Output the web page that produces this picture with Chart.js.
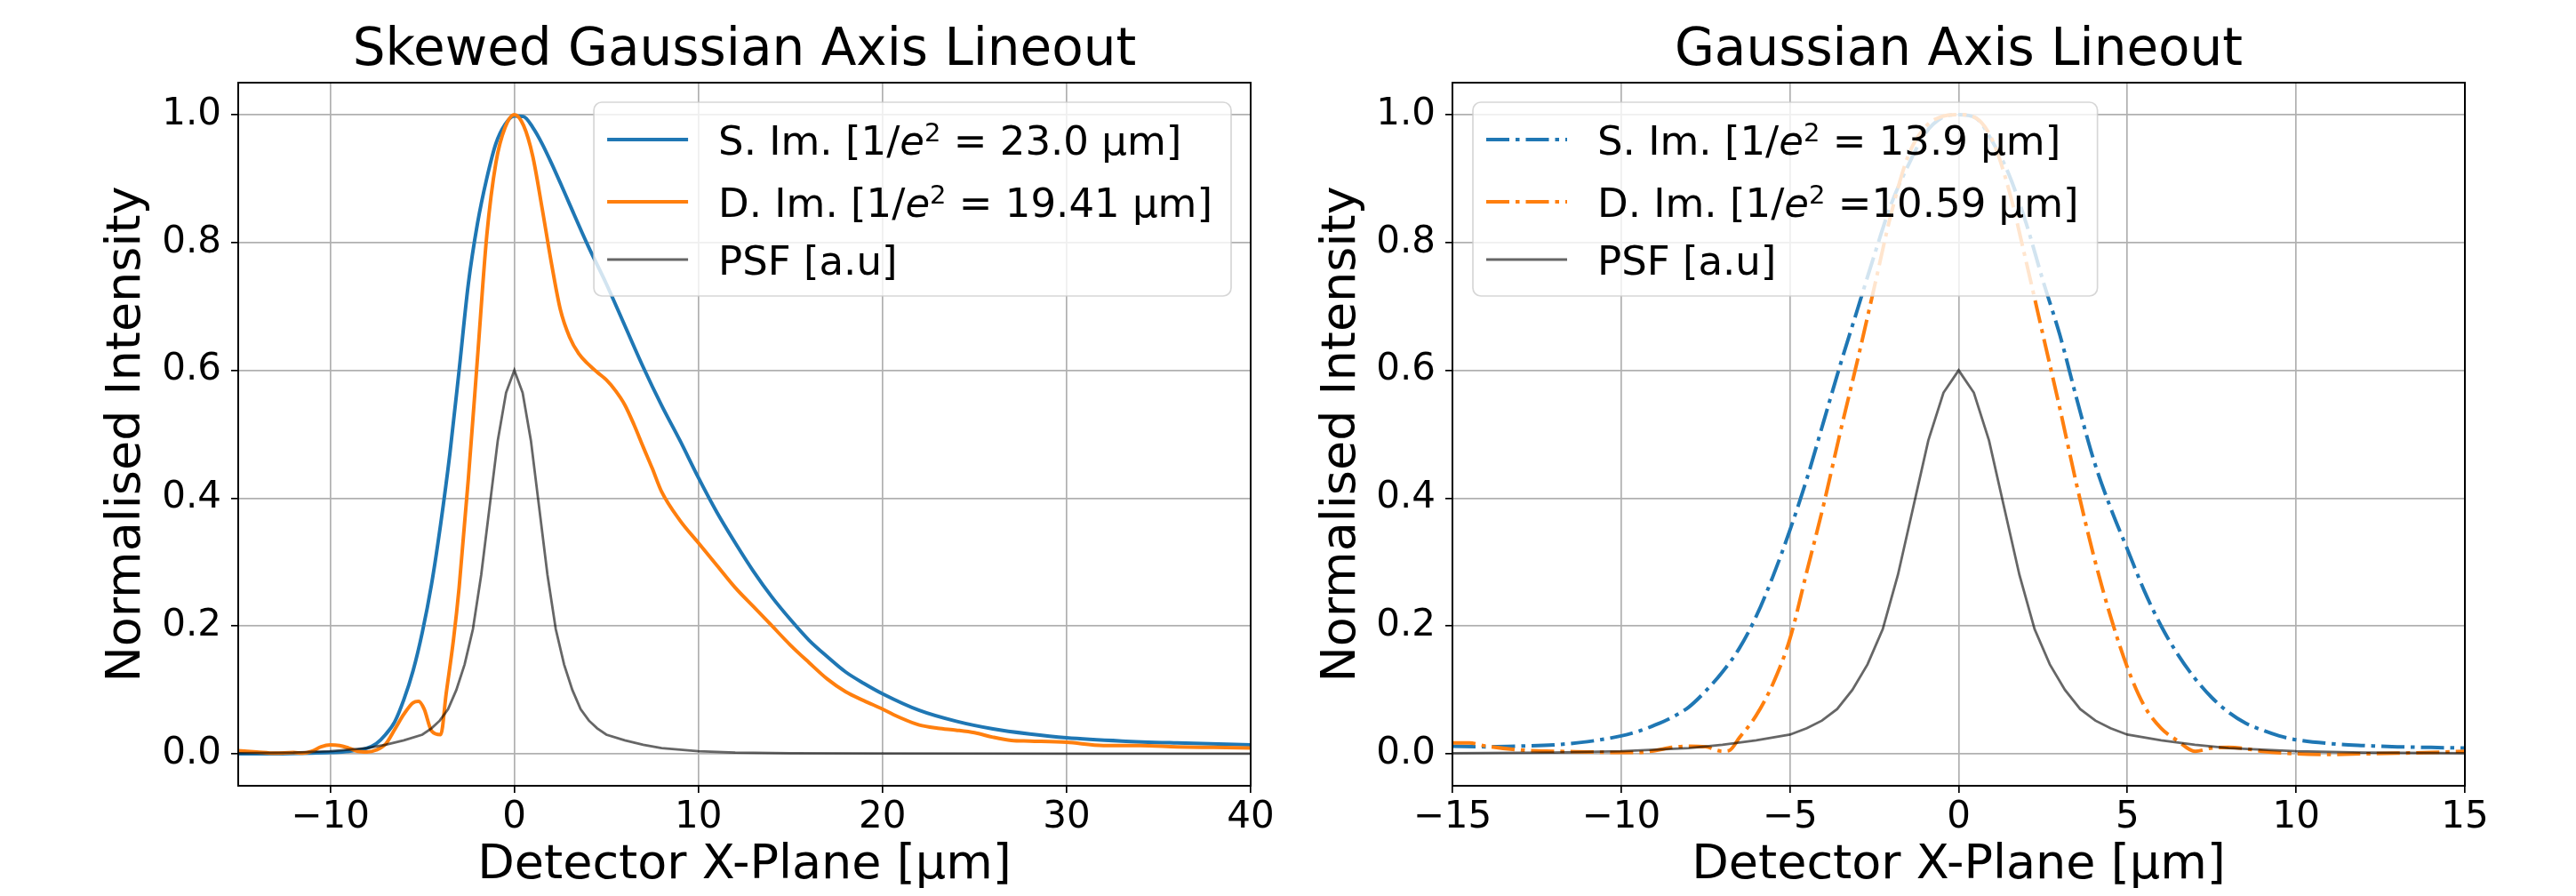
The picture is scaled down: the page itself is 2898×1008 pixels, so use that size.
<!DOCTYPE html>
<html lang="en">
<head>
    <meta charset="UTF-8">
    <title>Axis Lineouts</title>
    <script src="https://cdn.jsdelivr.net/npm/chart.js"></script>
    <style>
        body {
            margin: 0;
            background: #fff;
        }
        .wrap {
            display: flex;
            width: 2898px;
            height: 1008px;
        }
        .panel {
            width: 1449px;
            height: 1008px;
        }
    </style>
</head>
<body>

    <div class="wrap">
        <div class="panel"><canvas id="skewChart" width="1449" height="1008"></canvas></div>
        <div class="panel"><canvas id="gaussChart" width="1449" height="1008"></canvas></div>
    </div>

    <script>
        // tick values
        const yTickValues = [0, 0.2, 0.4, 0.6, 0.8, 1.0];
        const skewXTicks = [-10, 0, 10, 20, 30, 40];
        const gaussXTicks = [-15, -10, -5, 0, 5, 10, 15];

        // skewed gaussian lineout - S. Im.
        const skewSX = [-15, -13, -11, -10, -9, -8, -7.5, -7, -6.5, -6, -5.5, -5, -4.5, -4, -3.5, -3, -2.5, -2,
            -1.5, -1, -0.5, 0, 0.5, 1, 1.5, 2, 2.5, 3, 4, 5, 6, 7, 8, 9, 10, 11, 12, 13, 14, 15, 16, 17,
            18, 19, 20, 22, 24, 26, 28, 30, 33, 36, 40];
        const skewSY = [0.0, 0.0, 0.001, 0.002, 0.004, 0.009, 0.016, 0.03, 0.05, 0.085, 0.13, 0.19, 0.265, 0.36, 0.47, 0.60, 0.735, 0.83,
            0.90, 0.955, 0.985, 0.998, 0.997, 0.98, 0.955, 0.925, 0.893, 0.86, 0.795, 0.735, 0.67, 0.605, 0.545, 0.49, 0.432, 0.378, 0.33, 0.285, 0.245, 0.21, 0.178, 0.152,
            0.128, 0.11, 0.094, 0.068, 0.051, 0.039, 0.031, 0.025, 0.02, 0.017, 0.014];

        // skewed gaussian lineout - D. Im.
        const skewDX = [-15, -14, -13, -12, -11.5, -11, -10.5, -10, -9.5, -9, -8.5, -8, -7.5, -7, -6.5, -6, -5.5, -5.2,
            -4.9, -4.5, -4, -3.7, -3.3, -3, -2.5, -2, -1.5, -1, -0.5, 0, 0.5, 1, 1.5, 2, 2.5, 3,
            3.5, 4, 4.5, 5, 5.5, 6, 6.5, 7, 7.5, 8, 9, 10, 11, 12, 13, 14, 15, 16,
            17, 18, 19, 20, 21, 22, 23, 24, 25, 26, 27, 28, 30, 32, 34, 36, 38, 40];
        const skewDY = [0.005, 0.003, 0.001, 0.002, 0.001, 0.004, 0.011, 0.014, 0.013, 0.009, 0.004, 0.003, 0.006, 0.015, 0.038, 0.062, 0.08, 0.082,
            0.07, 0.036, 0.03, 0.095, 0.18, 0.26, 0.43, 0.62, 0.81, 0.925, 0.98, 1.0, 0.983, 0.935, 0.855, 0.77, 0.695, 0.652,
            0.626, 0.61, 0.597, 0.585, 0.568, 0.546, 0.515, 0.48, 0.446, 0.41, 0.365, 0.33, 0.295, 0.26, 0.23, 0.2, 0.17, 0.143,
            0.117, 0.097, 0.083, 0.07, 0.056, 0.045, 0.04, 0.037, 0.033, 0.026, 0.021, 0.02, 0.018, 0.013, 0.013, 0.011, 0.01, 0.009];

        // gaussian lineout - S. Im.
        const gaussSX = [-15, -14, -13, -12, -11, -10, -9.5, -9, -8.5, -8, -7.5, -7, -6.5, -6, -5.5, -5, -4.5, -4,
            -3.5, -3, -2.5, -2, -1.5, -1, -0.5, 0, 0.5, 1, 1.5, 2, 2.5, 3, 3.5, 4, 4.5, 5,
            5.5, 6, 6.5, 7, 7.5, 8, 8.5, 9, 9.5, 10, 11, 12, 13, 14, 15];
        const gaussSY = [0.012, 0.011, 0.012, 0.014, 0.019, 0.028, 0.035, 0.045, 0.057, 0.073, 0.098, 0.128, 0.165, 0.215, 0.278, 0.35, 0.43, 0.52,
            0.61, 0.695, 0.78, 0.86, 0.92, 0.97, 0.995, 1.0, 0.995, 0.958, 0.905, 0.83, 0.74, 0.655, 0.555, 0.46, 0.385, 0.32,
            0.255, 0.2, 0.155, 0.118, 0.088, 0.065, 0.048, 0.037, 0.028, 0.022, 0.016, 0.013, 0.011, 0.01, 0.009];

        // gaussian lineout - D. Im.
        const gaussDX = [-15, -14.5, -14, -13, -12, -11, -10, -9.5, -9, -8.5, -8, -7.5, -7, -6.8, -6.5, -6, -5.5, -5,
            -4.5, -4, -3.5, -3, -2.5, -2, -1.5, -1, -0.5, 0, 0.5, 1, 1.5, 2, 2.5, 3, 3.5, 4,
            4.5, 5, 5.5, 6, 6.5, 7, 7.5, 8, 8.5, 9, 10, 11, 12, 13, 14, 15];
        const gaussDY = [0.017, 0.017, 0.012, 0.006, 0.004, 0.003, 0.002, 0.002, 0.005, 0.01, 0.012, 0.011, 0.004, 0.005, 0.025, 0.06, 0.11, 0.18,
            0.285, 0.39, 0.505, 0.615, 0.73, 0.845, 0.935, 0.98, 0.997, 1.0, 0.995, 0.96, 0.88, 0.77, 0.655, 0.54, 0.42, 0.31,
            0.215, 0.135, 0.075, 0.04, 0.02, 0.004, 0.009, 0.01, 0.008, 0.004, 0.0, -0.001, 0.0, 0.001, 0.002, 0.004];

        // point spread function, same in both panels
        const psfX = [-15, -12, -10, -8, -7, -6, -5, -4.5, -4.05, -3.6, -3.15, -2.7, -2.25, -1.8, -1.35, -0.9, -0.45, 0,
            0.45, 0.9, 1.35, 1.8, 2.25, 2.7, 3.15, 3.6, 4.05, 4.5, 5, 6, 7, 8, 10, 12, 15, 20, 30, 40];
        const psfY = [0.001, 0.002, 0.004, 0.009, 0.014, 0.021, 0.03, 0.04, 0.052, 0.07, 0.1, 0.14, 0.195, 0.28, 0.385, 0.49, 0.565, 0.6,
            0.565, 0.49, 0.385, 0.28, 0.195, 0.14, 0.1, 0.07, 0.052, 0.04, 0.03, 0.021, 0.014, 0.009, 0.004, 0.002, 0.001, 0.0005, 0.0002, 0.0001];

        // legend labels, split so 1/e^2 can get italic e and a raised 2
        const skewLabels = [
            [{t: 'S. Im. [1/'}, {t: 'e', it: true}, {t: '2', sup: true}, {t: ' = 23.0 μm]'}],
            [{t: 'D. Im. [1/'}, {t: 'e', it: true}, {t: '2', sup: true}, {t: ' = 19.41 μm]'}],
            [{t: 'PSF [a.u]'}]
        ];
        const gaussLabels = [
            [{t: 'S. Im. [1/'}, {t: 'e', it: true}, {t: '2', sup: true}, {t: ' = 13.9 μm]'}],
            [{t: 'D. Im. [1/'}, {t: 'e', it: true}, {t: '2', sup: true}, {t: ' =10.59 μm]'}],
            [{t: 'PSF [a.u]'}]
        ];

        const FONT = "'DejaVu Sans', sans-serif";
        Chart.defaults.font.family = FONT;
        Chart.defaults.color = '#000';

        const BLUE = '#1f77b4';
        const ORANGE = '#ff7f0e';
        const GREY = 'rgba(0, 0, 0, 0.6)';
        const DASHDOT = [26, 7, 4.5, 7];

        function pts(xs, ys) {
            return xs.map((x, i) => ({x: x, y: ys[i]}));
        }

        function fmt(v) {
            return v < 0 ? '\u2212' + Math.abs(v) : String(v);
        }

        // black box round the axes, like matplotlib spines
        const framePlugin = {
            id: 'frame',
            afterDatasetsDraw(chart) {
                const a = chart.chartArea;
                const ctx = chart.ctx;
                ctx.save();
                ctx.strokeStyle = '#000';
                ctx.lineWidth = 2;
                ctx.strokeRect(a.left, a.top, a.right - a.left, a.bottom - a.top);
                ctx.restore();
            }
        };

        // matplotlib style legend inside the axes
        const legendPlugin = {
            id: 'mplLegend',
            afterDraw(chart, args, opts) {
                const ctx = chart.ctx;
                const a = chart.chartArea;
                const size = 45;
                const mainFont = size + 'px ' + FONT;
                const italFont = 'italic ' + size + 'px ' + FONT;
                const supFont = '29px ' + FONT;

                function runParts(parts, x, y, draw) {
                    let cx = x;
                    parts.forEach(p => {
                        ctx.font = p.sup ? supFont : (p.it ? italFont : mainFont);
                        if (draw) ctx.fillText(p.t, cx, p.sup ? y - 15 : y);
                        cx += ctx.measureText(p.t).width;
                    });
                    return cx - x;
                }

                ctx.save();
                const textW = Math.max(...opts.labels.map(l => runParts(l, 0, 0, false)));
                const w = 140 + textW + 21;
                const h = 218;
                const x = opts.loc === 'left' ? a.left + 23 : a.right - 22 - w;
                const y = a.top + 22;
                const r = 9;

                ctx.beginPath();
                ctx.moveTo(x + r, y);
                ctx.lineTo(x + w - r, y);
                ctx.arcTo(x + w, y, x + w, y + r, r);
                ctx.lineTo(x + w, y + h - r);
                ctx.arcTo(x + w, y + h, x + w - r, y + h, r);
                ctx.lineTo(x + r, y + h);
                ctx.arcTo(x, y + h, x, y + h - r, r);
                ctx.lineTo(x, y + r);
                ctx.arcTo(x, y, x + r, y, r);
                ctx.closePath();
                ctx.fillStyle = 'rgba(255, 255, 255, 0.8)';
                ctx.fill();
                ctx.strokeStyle = 'rgba(204, 204, 204, 0.8)';
                ctx.lineWidth = 1.7;
                ctx.stroke();

                const rows = [42, 112, 177];
                chart.data.datasets.forEach((ds, i) => {
                    const ry = y + rows[i];
                    ctx.beginPath();
                    ctx.setLineDash(ds.borderDash || []);
                    ctx.lineCap = 'butt';
                    ctx.strokeStyle = ds.borderColor;
                    ctx.lineWidth = ds.borderWidth;
                    ctx.moveTo(x + 15, ry);
                    ctx.lineTo(x + 106, ry);
                    ctx.stroke();
                    ctx.setLineDash([]);
                    ctx.fillStyle = '#000';
                    ctx.textBaseline = 'alphabetic';
                    ctx.textAlign = 'left';
                    runParts(opts.labels[i], x + 140, ry + 16.5, true);
                });
                ctx.restore();
            }
        };

        function makeChart(id, cfg) {
            return new Chart(document.getElementById(id), {
                type: 'line',
                data: {
                    datasets: [
                        {
                            label: 'S. Im.',
                            data: cfg.sImage,
                            borderColor: BLUE,
                            borderWidth: 4,
                            borderDash: cfg.dash,
                            cubicInterpolationMode: 'monotone',
                            order: 3
                        },
                        {
                            label: 'D. Im.',
                            data: cfg.dImage,
                            borderColor: ORANGE,
                            borderWidth: 4,
                            borderDash: cfg.dash,
                            cubicInterpolationMode: 'monotone',
                            order: 2
                        },
                        {
                            label: 'PSF [a.u]',
                            data: pts(psfX, psfY),
                            borderColor: GREY,
                            borderWidth: 2.8,
                            tension: 0,
                            order: 1
                        }
                    ]
                },
                options: {
                    responsive: false,
                    animation: false,
                    events: [],
                    layout: {
                        padding: {left: 0, top: 0, right: cfg.padRight, bottom: 0}
                    },
                    elements: {
                        point: {radius: 0},
                        line: {borderCapStyle: 'butt', fill: false}
                    },
                    scales: {
                        x: {
                            type: 'linear',
                            position: 'bottom',
                            min: cfg.xMin,
                            max: cfg.xMax,
                            afterFit: s => { s.height = 124; },
                            afterBuildTicks: s => { s.ticks = cfg.xTicks.map(v => ({value: v})); },
                            ticks: {
                                font: {size: 42},
                                padding: 3,
                                autoSkip: false,
                                maxRotation: 0,
                                minRotation: 0,
                                callback: v => fmt(v)
                            },
                            grid: {
                                color: '#b0b0b0',
                                lineWidth: 1.7,
                                tickColor: '#000',
                                tickWidth: 1.7,
                                tickLength: 8
                            },
                            border: {display: false},
                            title: {
                                display: true,
                                text: 'Detector X-Plane [μm]',
                                font: {size: 54},
                                padding: {top: 0, bottom: 1.6}
                            }
                        },
                        y: {
                            type: 'linear',
                            min: -0.05,
                            max: 1.05,
                            afterFit: s => { s.width = cfg.axisLeft; },
                            afterBuildTicks: s => { s.ticks = yTickValues.map(v => ({value: v})); },
                            ticks: {
                                font: {size: 42},
                                padding: 11,
                                autoSkip: false,
                                callback: v => v.toFixed(1)
                            },
                            grid: {
                                color: '#b0b0b0',
                                lineWidth: 1.7,
                                tickColor: '#000',
                                tickWidth: 1.7,
                                tickLength: 8
                            },
                            border: {display: false},
                            title: {
                                display: true,
                                text: 'Normalised Intensity',
                                font: {size: 54},
                                padding: {top: cfg.yTitlePad, bottom: 0}
                            }
                        }
                    },
                    plugins: {
                        legend: {display: false},
                        tooltip: {enabled: false},
                        title: {
                            display: true,
                            text: cfg.title,
                            fullSize: false,
                            font: {size: 58, weight: 'normal'},
                            padding: {top: 23, bottom: 0.4}
                        },
                        mplLegend: {
                            labels: cfg.labels,
                            loc: cfg.legendLoc
                        }
                    }
                },
                plugins: [framePlugin, legendPlugin]
            });
        }

        makeChart('skewChart', {
            title: 'Skewed Gaussian Axis Lineout',
            sImage: pts(skewSX, skewSY),
            dImage: pts(skewDX, skewDY),
            dash: [],
            xMin: -15,
            xMax: 40,
            xTicks: skewXTicks,
            axisLeft: 268,
            padRight: 42,
            yTitlePad: 110.6,
            labels: skewLabels,
            legendLoc: 'right'
        });

        makeChart('gaussChart', {
            title: 'Gaussian Axis Lineout',
            sImage: pts(gaussSX, gaussSY),
            dImage: pts(gaussDX, gaussDY),
            dash: DASHDOT,
            xMin: -15,
            xMax: 15,
            xTicks: gaussXTicks,
            axisLeft: 185,
            padRight: 125,
            yTitlePad: 28.6,
            labels: gaussLabels,
            legendLoc: 'left'
        });
    </script>
</body>
</html>
